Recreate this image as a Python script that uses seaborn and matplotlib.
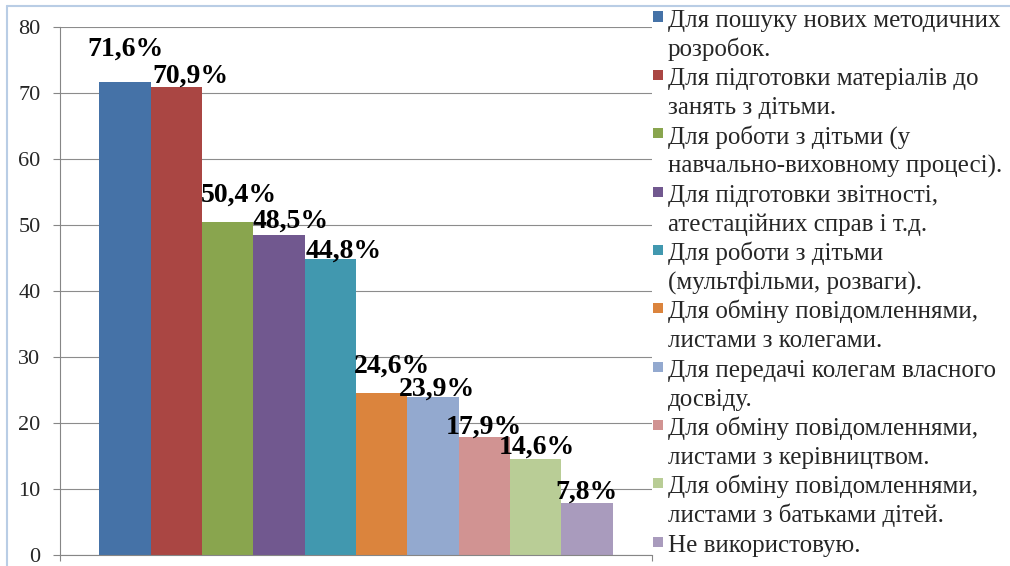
import matplotlib
matplotlib.use("Agg")
import matplotlib.pyplot as plt
import pandas as pd
import seaborn as sns
from matplotlib.patches import Rectangle
from matplotlib.lines import Line2D

# data
categories = [
    "Для пошуку нових методичних\nрозробок.",
    "Для підготовки матеріалів до\nзанять з дітьми.",
    "Для роботи з дітьми (у\nнавчально-виховному процесі).",
    "Для підготовки звітності,\nатестаційних справ і т.д.",
    "Для роботи з дітьми\n(мультфільми, розваги).",
    "Для обміну повідомленнями,\nлистами з колегами.",
    "Для передачі колегам власного\nдосвіду.",
    "Для обміну повідомленнями,\nлистами з керівництвом.",
    "Для обміну повідомленнями,\nлистами з батьками дітей.",
    "Не використовую.",
]
values = [71.6, 70.9, 50.4, 48.5, 44.8, 24.6, 23.9, 17.9, 14.6, 7.8]
y_ticks = [0, 10, 20, 30, 40, 50, 60, 70, 80]

colors = ["#4572A7", "#AA4643", "#89A54E", "#71588F", "#4198AF",
          "#DB843D", "#93A9CF", "#D19392", "#B9CD96", "#A99BBD"]

# label nudges (pixels) as placed by hand in the original
label_dx = [0, 14, 11, 12, 13, 10, 4, 0, 1, 0]
label_dy = [26, 4, 20, 7, 1, 20, 1, 3, 5, 5]

W, H = 1010, 566
sns.set_style("white")
plt.rcParams["font.family"] = ["Liberation Serif", "DejaVu Serif"]

fig = plt.figure(figsize=(W / 100, H / 100), dpi=100)
ax = fig.add_axes([60 / W, (H - 555) / H, (652 - 60) / W, (555 - 26.7) / H])

df = pd.DataFrame({"group": [""] * len(values), "category": categories, "value": values})
sns.barplot(data=df, x="group", y="value", hue="category", hue_order=categories,
            palette=colors, width=0.867, saturation=1, legend=False, ax=ax,
            linewidth=0, edgecolor="none")

ax.set_xlim(-0.5, 0.5)
ax.set_ylim(0, 80)
ax.set_yticks(y_ticks)
ax.set_xticks([-0.5, 0.5])
ax.set_xticklabels(["", ""])
ax.set_xlabel("")
ax.set_ylabel("")
ax.tick_params(axis="y", direction="out", length=5, width=0.8, color="#868686",
               labelsize=16, pad=9, left=True)
ax.tick_params(axis="x", direction="out", length=4.5, width=0.8, color="#868686", bottom=True)
ax.yaxis.grid(True, color="#8c8c8c", linewidth=0.8)
ax.set_axisbelow(True)
for side in ["top", "right"]:
    ax.spines[side].set_visible(False)
for side in ["left", "bottom"]:
    ax.spines[side].set_color("#868686")
    ax.spines[side].set_linewidth(0.8)

# value labels
for i, cont in enumerate(ax.containers):
    bar = cont[0]
    x = bar.get_x() + bar.get_width() / 2
    txt = f"{values[i]:.1f}%".replace(".", ",")
    ax.annotate(txt, (x, bar.get_height()), xytext=(label_dx[i] * 0.72, label_dy[i] * 0.72),
                textcoords="offset points", ha="center", va="baseline",
                fontsize=20, fontweight="bold", color="black")

# legend drawn by hand so the marker sits on the first line of each entry
line_no = 0
for i, label in enumerate(categories):
    for k, line in enumerate(label.split("\n")):
        yb = 26.5 + 29.17 * line_no
        fig.text(668 / W, 1 - yb / H, line, fontsize=18, ha="left", va="baseline")
        if k == 0:
            fig.add_artist(Rectangle((653 / W, 1 - (yb - 5) / H), 10 / W, 10 / H,
                                     transform=fig.transFigure, color=colors[i], lw=0))
        line_no += 1

# chart area border
fig.add_artist(Line2D([7 / W, 1], [1 - 6 / H, 1 - 6 / H], transform=fig.transFigure,
                      color="#B9CDE5", lw=1.5))
fig.add_artist(Line2D([7 / W, 7 / W], [0, 1 - 6 / H], transform=fig.transFigure,
                      color="#B9CDE5", lw=1.5))

fig.savefig("out.png", dpi=100)
